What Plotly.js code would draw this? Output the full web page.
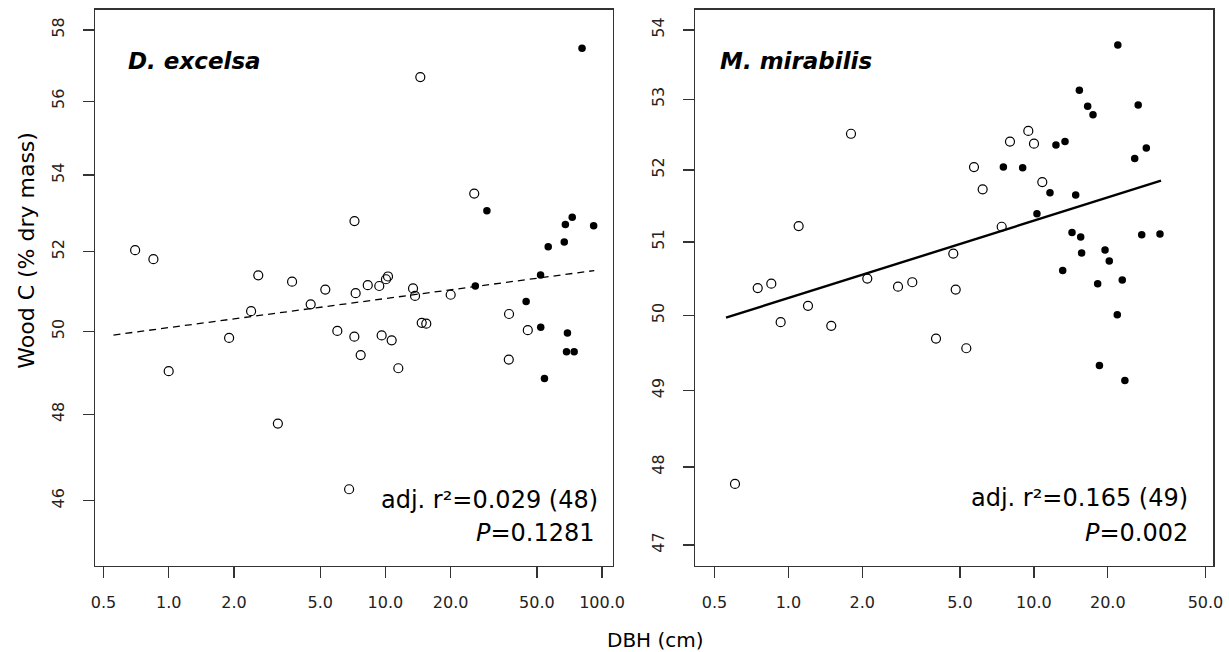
<!DOCTYPE html>
<html>
<head>
<meta charset="utf-8">
<script src="https://cdn.plot.ly/plotly-3.0.1.min.js"></script>
<style>
  html, body { margin: 0; padding: 0; background: #fff; }
  #chart { width: 1229px; height: 652px; }
</style>
</head>
<body>
<div id="chart"></div>
<script>
// ---- Data ----
// D. excelsa : open circles
const dexOpenDBH = [0.70,0.85,1.00,1.90,2.40,2.59,3.19,3.71,4.52,5.28,6.00,7.20,7.29,7.19,7.69,8.29,9.37,9.61,10.06,10.28,10.69,11.47,13.41,13.70,14.71,15.44,20.01,37.2,45.4,37.1,14.49,25.7,6.80];
const dexOpenC   = [52.04,51.81,49.03,49.84,50.50,51.40,47.78,51.24,50.67,51.04,50.01,52.79,50.95,49.87,49.42,51.15,51.13,49.90,51.30,51.37,49.78,49.10,51.07,50.88,50.21,50.19,50.91,50.43,50.03,49.31,56.67,53.51,46.26];
// D. excelsa : filled circles
const dexFilledDBH = [26.0,44.6,52.0,52.1,54.2,56.4,66.9,67.7,69.2,68.5,74.3,91.4,72.8,80.8,29.4];
const dexFilledC   = [51.13,50.74,51.41,50.10,48.85,52.13,52.25,52.70,49.96,49.50,49.50,52.67,52.89,57.48,53.06];
// D. excelsa : fitted line end points
const dexFitDBH = [0.556, 92.0];
const dexFitC   = [49.91, 51.52];

// M. mirabilis : open circles
const mirOpenDBH = [0.606,0.750,0.852,0.930,1.101,1.202,1.495,1.799,2.096,2.796,3.197,3.993,4.696,4.803,5.305,5.702,6.185,7.393,7.991,9.489,10.01,10.82];
const mirOpenC   = [47.78,50.37,50.43,49.91,51.22,50.13,49.86,52.51,50.50,50.39,50.45,49.69,50.84,50.35,49.56,52.04,51.73,51.21,52.40,52.55,52.37,51.83];
// M. mirabilis : filled circles
const mirFilledDBH = [7.51,9.00,11.63,12.30,13.39,10.29,14.80,17.41,14.30,15.51,15.65,13.10,18.19,19.49,20.28,22.91,21.86,25.74,28.70,27.49,32.63,21.97,15.32,16.56,26.60,18.49,23.48];
const mirFilledC   = [52.04,52.03,51.68,52.35,52.40,51.39,51.65,52.78,51.13,51.07,50.85,50.61,50.43,50.89,50.74,50.48,50.01,52.16,52.31,51.10,51.11,53.78,53.13,52.90,52.92,49.33,49.13];
// M. mirabilis : fitted line end points
const mirFitDBH = [0.557, 32.94];
const mirFitC   = [49.97, 51.85];

// Tick labels
const dexXTicks = [0.5,1,2,5,10,20,50,100];
const dexXTickText = ['0.5','1.0','2.0','5.0','10.0','20.0','50.0','100.0'];
const mirXTicks = [0.5,1,2,5,10,20,50];
const mirXTickText = ['0.5','1.0','2.0','5.0','10.0','20.0','50.0'];
const dexYTicks = [46,48,50,52,54,56,58];
const mirYTicks = [47,48,49,50,51,52,53,54];

// Text
const dexLabel = 'D. excelsa';
const mirLabel = 'M. mirabilis';
const dexStat1 = 'adj. r²=0.029 (48)';
const dexStat2 = '<i>P</i>=0.1281';
const mirStat1 = 'adj. r²=0.165 (49)';
const mirStat2 = '<i>P</i>=0.002';
const yTitle = 'Wood C (% dry mass)';
const xTitle = 'DBH (cm)';

// ---- Styling ----
const FONT = 'DejaVu Sans, Liberation Sans, Arial, sans-serif';
const W = 1229, H = 652;
const px = v => v / W;
const py = v => 1 - v / H;

const openMarker = { symbol: 'circle-open', size: 9, color: '#000', line: { width: 1.2, color: '#000' } };
const filledMarker = { symbol: 'circle', size: 7.5, color: '#000' };

const traces = [
  { x: dexOpenDBH, y: dexOpenC, mode: 'markers', type: 'scatter', marker: openMarker, xaxis: 'x', yaxis: 'y', hoverinfo: 'x+y' },
  { x: dexFilledDBH, y: dexFilledC, mode: 'markers', type: 'scatter', marker: filledMarker, xaxis: 'x', yaxis: 'y', hoverinfo: 'x+y' },
  { x: dexFitDBH, y: dexFitC, mode: 'lines', type: 'scatter', line: { color: '#000', width: 1.3, dash: '7px,5px' }, xaxis: 'x', yaxis: 'y', hoverinfo: 'skip' },
  { x: mirOpenDBH, y: mirOpenC, mode: 'markers', type: 'scatter', marker: openMarker, xaxis: 'x2', yaxis: 'y2', hoverinfo: 'x+y' },
  { x: mirFilledDBH, y: mirFilledC, mode: 'markers', type: 'scatter', marker: filledMarker, xaxis: 'x2', yaxis: 'y2', hoverinfo: 'x+y' },
  { x: mirFitDBH, y: mirFitC, mode: 'lines', type: 'scatter', line: { color: '#000', width: 2.4 }, xaxis: 'x2', yaxis: 'y2', hoverinfo: 'skip' }
];

const axisCommon = {
  type: 'log',
  showgrid: false,
  zeroline: false,
  showline: true,
  mirror: true,
  linecolor: '#333',
  linewidth: 1.3,
  ticks: 'outside',
  ticklen: 11,
  tickwidth: 1.3,
  tickcolor: '#333',
  tickfont: { family: FONT, size: 16, color: '#222' },
  tickmode: 'array',
  fixedrange: true
};

const yDomain = [py(566), py(9.5)];

const layout = {
  width: W,
  height: H,
  margin: { l: 0, r: 0, t: 0, b: 0 },
  paper_bgcolor: '#fff',
  plot_bgcolor: '#fff',
  showlegend: false,
  font: { family: FONT, color: '#000' },
  xaxis: Object.assign({}, axisCommon, {
    domain: [px(95), px(612.7)],
    range: [-0.3401, 2.0489],
    tickvals: dexXTicks, ticktext: dexXTickText,
    ticklabelstandoff: 10,
    anchor: 'y'
  }),
  yaxis: Object.assign({}, axisCommon, {
    domain: yDomain,
    range: [1.64879, 1.76781],
    tickvals: dexYTicks, ticktext: dexYTicks.map(String),
    tickangle: -90,
    ticklabelstandoff: 12,
    anchor: 'x'
  }),
  xaxis2: Object.assign({}, axisCommon, {
    domain: [px(695), px(1213.3)],
    range: [-0.3804, 1.7308],
    tickvals: mirXTicks, ticktext: mirXTickText,
    ticklabelstandoff: 10,
    anchor: 'y2'
  }),
  yaxis2: Object.assign({}, axisCommon, {
    domain: yDomain,
    range: [1.66964, 1.73479],
    tickvals: mirYTicks, ticktext: mirYTicks.map(String),
    tickangle: -90,
    ticklabelstandoff: 12,
    anchor: 'x2'
  }),
  annotations: [
    { text: '<b><i>' + dexLabel + '</i></b>', xref: 'paper', yref: 'paper', x: px(125.7), y: py(61.3), xanchor: 'left', yanchor: 'middle', showarrow: false, font: { family: FONT, size: 23, color: '#000' } },
    { text: '<b><i>' + mirLabel + '</i></b>', xref: 'paper', yref: 'paper', x: px(718.3), y: py(61), xanchor: 'left', yanchor: 'middle', showarrow: false, font: { family: FONT, size: 23, color: '#000' } },
    { text: dexStat1, xref: 'paper', yref: 'paper', x: px(600.3), y: py(500), xanchor: 'right', yanchor: 'middle', showarrow: false, font: { family: FONT, size: 24, color: '#000' } },
    { text: dexStat2, xref: 'paper', yref: 'paper', x: px(597), y: py(533.4), xanchor: 'right', yanchor: 'middle', showarrow: false, font: { family: FONT, size: 24, color: '#000' } },
    { text: mirStat1, xref: 'paper', yref: 'paper', x: px(1190), y: py(498.4), xanchor: 'right', yanchor: 'middle', showarrow: false, font: { family: FONT, size: 24, color: '#000' } },
    { text: mirStat2, xref: 'paper', yref: 'paper', x: px(1190), y: py(532.7), xanchor: 'right', yanchor: 'middle', showarrow: false, font: { family: FONT, size: 24, color: '#000' } },
    { text: yTitle, xref: 'paper', yref: 'paper', x: px(25.7), y: py(250), xanchor: 'center', yanchor: 'middle', textangle: -90, showarrow: false, font: { family: FONT, size: 22, color: '#000' } },
    { text: xTitle, xref: 'paper', yref: 'paper', x: px(655), y: py(639.8), xanchor: 'center', yanchor: 'middle', showarrow: false, font: { family: FONT, size: 20, color: '#000' } }
  ]
};

Plotly.newPlot('chart', traces, layout, { staticPlot: true, displayModeBar: false });
</script>
</body>
</html>
